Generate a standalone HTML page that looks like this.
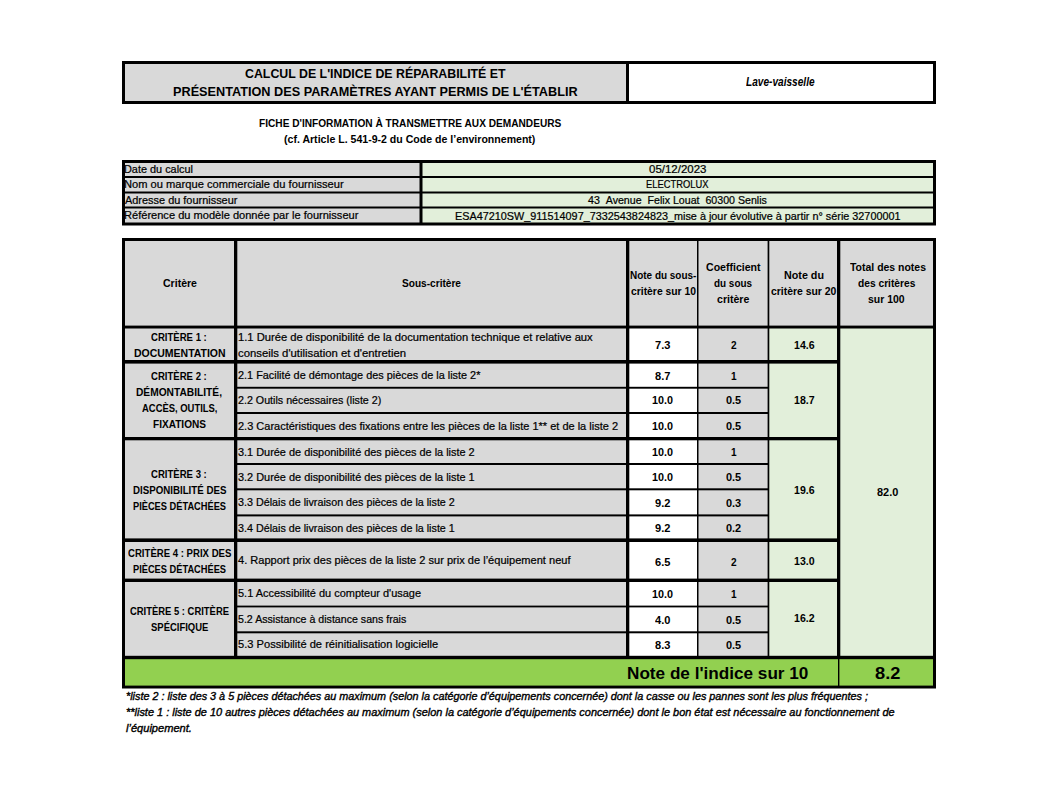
<!DOCTYPE html>
<html><head><meta charset="utf-8"><title>Indice de réparabilité</title>
<style>
html,body{margin:0;padding:0;background:#fff}
#p{position:relative;width:1061px;height:795px;overflow:hidden;background:#fff;color:#000;font-family:'Liberation Sans', sans-serif}
#p div{position:absolute}
#p span{position:absolute;white-space:pre;line-height:1;transform-origin:0 0}
.b{font-weight:bold}.i{font-style:italic}
</style></head><body><div id="p">
<svg width="1061" height="795" viewBox="0 0 1061 795" style="position:absolute;left:0;top:0">
<rect x="122" y="61" width="814" height="43" fill="#000"/>
<rect x="125" y="64" width="501" height="37" fill="#d9d9d9"/>
<rect x="629" y="64" width="304" height="37" fill="#fff"/>
<rect x="122" y="160" width="814" height="65.5" fill="#000"/>
<rect x="125" y="163" width="294.5" height="13" fill="#d9d9d9"/>
<rect x="422.5" y="163" width="510.5" height="13" fill="#e2efda"/>
<rect x="125" y="178" width="294.5" height="13.5" fill="#d9d9d9"/>
<rect x="422.5" y="178" width="510.5" height="13.5" fill="#e2efda"/>
<rect x="125" y="193.5" width="294.5" height="13.0" fill="#d9d9d9"/>
<rect x="422.5" y="193.5" width="510.5" height="13.0" fill="#e2efda"/>
<rect x="125" y="208.5" width="294.5" height="14.0" fill="#d9d9d9"/>
<rect x="422.5" y="208.5" width="510.5" height="14.0" fill="#e2efda"/>
<rect x="122" y="238" width="814" height="450.5" fill="#000"/>
<rect x="125" y="241" width="109" height="84.6" fill="#d9d9d9"/>
<rect x="237.3" y="241" width="388.7" height="84.6" fill="#d9d9d9"/>
<rect x="629.3" y="241" width="67.7" height="84.6" fill="#d9d9d9"/>
<rect x="698.5" y="241" width="69.1" height="84.6" fill="#d9d9d9"/>
<rect x="769.3" y="241" width="67.7" height="84.6" fill="#d9d9d9"/>
<rect x="840.3" y="241" width="92.7" height="84.6" fill="#d9d9d9"/>
<rect x="125" y="328.5" width="109" height="31.5" fill="#d9d9d9"/>
<rect x="769.3" y="328.5" width="67.7" height="31.5" fill="#e2efda"/>
<rect x="125" y="363.6" width="109" height="73.4" fill="#d9d9d9"/>
<rect x="769.3" y="363.6" width="67.7" height="73.4" fill="#e2efda"/>
<rect x="125" y="440.3" width="109" height="98.1" fill="#d9d9d9"/>
<rect x="769.3" y="440.3" width="67.7" height="98.1" fill="#e2efda"/>
<rect x="125" y="542" width="109" height="36.6" fill="#d9d9d9"/>
<rect x="769.3" y="542" width="67.7" height="36.6" fill="#e2efda"/>
<rect x="125" y="582" width="109" height="73.8" fill="#d9d9d9"/>
<rect x="769.3" y="582" width="67.7" height="73.8" fill="#e2efda"/>
<rect x="237.3" y="328.5" width="388.7" height="31.5" fill="#d9d9d9"/>
<rect x="629.3" y="328.5" width="67.7" height="31.5" fill="#fff"/>
<rect x="698.5" y="328.5" width="69.1" height="31.5" fill="#d9d9d9"/>
<rect x="237.3" y="363.6" width="388.7" height="23.2" fill="#d9d9d9"/>
<rect x="629.3" y="363.6" width="67.7" height="23.2" fill="#fff"/>
<rect x="698.5" y="363.6" width="69.1" height="23.2" fill="#d9d9d9"/>
<rect x="237.3" y="388.7" width="388.7" height="23.3" fill="#d9d9d9"/>
<rect x="629.3" y="388.7" width="67.7" height="23.3" fill="#fff"/>
<rect x="698.5" y="388.7" width="69.1" height="23.3" fill="#d9d9d9"/>
<rect x="237.3" y="414" width="388.7" height="23" fill="#d9d9d9"/>
<rect x="629.3" y="414" width="67.7" height="23" fill="#fff"/>
<rect x="698.5" y="414" width="69.1" height="23" fill="#d9d9d9"/>
<rect x="237.3" y="440.3" width="388.7" height="22.7" fill="#d9d9d9"/>
<rect x="629.3" y="440.3" width="67.7" height="22.7" fill="#fff"/>
<rect x="698.5" y="440.3" width="69.1" height="22.7" fill="#d9d9d9"/>
<rect x="237.3" y="465" width="388.7" height="23.3" fill="#d9d9d9"/>
<rect x="629.3" y="465" width="67.7" height="23.3" fill="#fff"/>
<rect x="698.5" y="465" width="69.1" height="23.3" fill="#d9d9d9"/>
<rect x="237.3" y="490.3" width="388.7" height="24.1" fill="#d9d9d9"/>
<rect x="629.3" y="490.3" width="67.7" height="24.1" fill="#fff"/>
<rect x="698.5" y="490.3" width="69.1" height="24.1" fill="#d9d9d9"/>
<rect x="237.3" y="516.4" width="388.7" height="22.0" fill="#d9d9d9"/>
<rect x="629.3" y="516.4" width="67.7" height="22.0" fill="#fff"/>
<rect x="698.5" y="516.4" width="69.1" height="22.0" fill="#d9d9d9"/>
<rect x="237.3" y="542" width="388.7" height="36.6" fill="#d9d9d9"/>
<rect x="629.3" y="542" width="67.7" height="36.6" fill="#fff"/>
<rect x="698.5" y="542" width="69.1" height="36.6" fill="#d9d9d9"/>
<rect x="237.3" y="582" width="388.7" height="23.6" fill="#d9d9d9"/>
<rect x="629.3" y="582" width="67.7" height="23.6" fill="#fff"/>
<rect x="698.5" y="582" width="69.1" height="23.6" fill="#d9d9d9"/>
<rect x="237.3" y="607.4" width="388.7" height="23.9" fill="#d9d9d9"/>
<rect x="629.3" y="607.4" width="67.7" height="23.9" fill="#fff"/>
<rect x="698.5" y="607.4" width="69.1" height="23.9" fill="#d9d9d9"/>
<rect x="237.3" y="633.3" width="388.7" height="22.5" fill="#d9d9d9"/>
<rect x="629.3" y="633.3" width="67.7" height="22.5" fill="#fff"/>
<rect x="698.5" y="633.3" width="69.1" height="22.5" fill="#d9d9d9"/>
<rect x="840.3" y="328.5" width="92.7" height="327.3" fill="#e2efda"/>
<rect x="125" y="659.2" width="713" height="26.4" fill="#92d050"/>
<rect x="839.4" y="659.2" width="93.6" height="26.4" fill="#92d050"/>
</svg>
<span class="b" style="left:245.00px;top:67.00px;font-size:13.7px;transform:scaleX(0.9027)">CALCUL DE L'INDICE DE RÉPARABILITÉ ET</span>
<span class="b" style="left:172.80px;top:85.00px;font-size:13.7px;transform:scaleX(0.9270)">PRÉSENTATION DES PARAMÈTRES AYANT PERMIS DE L'ÉTABLIR</span>
<span class="b i" style="left:745.90px;top:76.00px;font-size:12.4px;transform:scaleX(0.8162)">Lave-vaisselle</span>
<span class="b" style="left:259.25px;top:118.00px;font-size:11.2px;transform:scaleX(0.9053)">FICHE D'INFORMATION À TRANSMETTRE AUX DEMANDEURS</span>
<span class="b" style="left:284.20px;top:134.00px;font-size:11.2px;transform:scaleX(0.9441)">(cf. Article L. 541-9-2 du Code de l’environnement)</span>
<span style="left:124.40px;top:164.00px;font-size:11.2px;transform:scaleX(0.9731);-webkit-text-stroke:0.22px #000">Date du calcul</span>
<span style="left:124.40px;top:179.00px;font-size:11.2px;transform:scaleX(0.9952);-webkit-text-stroke:0.22px #000">Nom ou marque commerciale du fournisseur</span>
<span style="left:124.60px;top:195.00px;font-size:11.2px;transform:scaleX(0.9770);-webkit-text-stroke:0.22px #000">Adresse du fournisseur</span>
<span style="left:124.40px;top:210.00px;font-size:11.2px;transform:scaleX(0.9892);-webkit-text-stroke:0.22px #000">Référence du modèle donnée par le fournisseur</span>
<span style="left:648.80px;top:164.00px;font-size:11.2px;transform:scaleX(1.0250);-webkit-text-stroke:0.22px #000">05/12/2023</span>
<span style="left:646.30px;top:179.00px;font-size:11.2px;transform:scaleX(0.8364);-webkit-text-stroke:0.22px #000">ELECTROLUX</span>
<span style="left:588.25px;top:195.00px;font-size:11.2px;transform:scaleX(0.9503);-webkit-text-stroke:0.22px #000">43  Avenue  Felix Louat  60300 Senlis</span>
<span style="left:454.95px;top:211.00px;font-size:11.2px;transform:scaleX(0.9681);-webkit-text-stroke:0.22px #000">ESA47210SW_911514097_7332543824823_mise à jour évolutive à partir n° série 32700001</span>
<span class="b" style="left:163.00px;top:278.00px;font-size:11.2px;transform:scaleX(0.9424)">Critère</span>
<span class="b" style="left:402.00px;top:278.00px;font-size:11.2px;transform:scaleX(0.9036)">Sous-critère</span>
<span class="b" style="left:630.30px;top:270.00px;font-size:11.2px;transform:scaleX(0.8902)">Note du sous-</span>
<span class="b" style="left:631.00px;top:286.00px;font-size:11.2px;transform:scaleX(0.9249)">critère sur 10</span>
<span class="b" style="left:706.00px;top:262.00px;font-size:11.2px;transform:scaleX(0.9444)">Coefficient</span>
<span class="b" style="left:714.30px;top:278.00px;font-size:11.2px;transform:scaleX(0.8860)">du sous</span>
<span class="b" style="left:717.10px;top:294.00px;font-size:11.2px;transform:scaleX(0.9468)">critère</span>
<span class="b" style="left:783.80px;top:270.00px;font-size:11.2px;transform:scaleX(0.9606)">Note du</span>
<span class="b" style="left:771.10px;top:286.00px;font-size:11.2px;transform:scaleX(0.9305)">critère sur 20</span>
<span class="b" style="left:850.00px;top:262.00px;font-size:11.2px;transform:scaleX(0.9356)">Total des notes</span>
<span class="b" style="left:857.80px;top:278.00px;font-size:11.2px;transform:scaleX(0.9136)">des critères</span>
<span class="b" style="left:868.20px;top:294.00px;font-size:11.2px;transform:scaleX(0.9340)">sur 100</span>
<span class="b" style="left:151.40px;top:332.00px;font-size:11.2px;transform:scaleX(0.8548)">CRITÈRE 1 :</span>
<span class="b" style="left:133.50px;top:348.00px;font-size:11.2px;transform:scaleX(0.9368)">DOCUMENTATION</span>
<span class="b" style="left:151.40px;top:371.00px;font-size:11.2px;transform:scaleX(0.8548)">CRITÈRE 2 :</span>
<span class="b" style="left:136.30px;top:387.00px;font-size:11.2px;transform:scaleX(0.9123)">DÉMONTABILITÉ,</span>
<span class="b" style="left:141.55px;top:403.00px;font-size:11.2px;transform:scaleX(0.8434)">ACCÈS, OUTILS,</span>
<span class="b" style="left:152.80px;top:419.00px;font-size:11.2px;transform:scaleX(0.9007)">FIXATIONS</span>
<span class="b" style="left:151.40px;top:469.00px;font-size:11.2px;transform:scaleX(0.8548)">CRITÈRE 3 :</span>
<span class="b" style="left:132.60px;top:485.00px;font-size:11.2px;transform:scaleX(0.8685)">DISPONIBILITÉ DES</span>
<span class="b" style="left:132.80px;top:501.00px;font-size:11.2px;transform:scaleX(0.8280)">PIÈCES DÉTACHÉES</span>
<span class="b" style="left:127.60px;top:548.00px;font-size:11.2px;transform:scaleX(0.8573)">CRITÈRE 4 : PRIX DES</span>
<span class="b" style="left:132.80px;top:564.00px;font-size:11.2px;transform:scaleX(0.8280)">PIÈCES DÉTACHÉES</span>
<span class="b" style="left:129.80px;top:606.00px;font-size:11.2px;transform:scaleX(0.8427)">CRITÈRE 5 : CRITÈRE</span>
<span class="b" style="left:150.60px;top:622.00px;font-size:11.2px;transform:scaleX(0.8470)">SPÉCIFIQUE</span>
<span style="left:238.30px;top:332.00px;font-size:11.2px;transform:scaleX(1.0005);-webkit-text-stroke:0.22px #000">1.1 Durée de disponibilité de la documentation technique et relative aux</span>
<span style="left:238.30px;top:348.00px;font-size:11.2px;transform:scaleX(1.0128);-webkit-text-stroke:0.22px #000">conseils d'utilisation et d'entretien</span>
<span style="left:238.30px;top:370.00px;font-size:11.2px;transform:scaleX(0.9720);-webkit-text-stroke:0.22px #000">2.1 Facilité de démontage des pièces de la liste 2*</span>
<span style="left:238.30px;top:395.00px;font-size:11.2px;transform:scaleX(0.9562);-webkit-text-stroke:0.22px #000">2.2 Outils nécessaires (liste 2)</span>
<span style="left:238.30px;top:421.00px;font-size:11.2px;transform:scaleX(0.9824);-webkit-text-stroke:0.22px #000">2.3 Caractéristiques des fixations entre les pièces de la liste 1** et de la liste 2</span>
<span style="left:238.30px;top:447.00px;font-size:11.2px;transform:scaleX(0.9758);-webkit-text-stroke:0.22px #000">3.1 Durée de disponibilité des pièces de la liste 2</span>
<span style="left:238.30px;top:472.00px;font-size:11.2px;transform:scaleX(0.9758);-webkit-text-stroke:0.22px #000">3.2 Durée de disponibilité des pièces de la liste 1</span>
<span style="left:238.30px;top:497.00px;font-size:11.2px;transform:scaleX(0.9604);-webkit-text-stroke:0.22px #000">3.3 Délais de livraison des pièces de la liste 2</span>
<span style="left:238.30px;top:523.00px;font-size:11.2px;transform:scaleX(0.9604);-webkit-text-stroke:0.22px #000">3.4 Délais de livraison des pièces de la liste 1</span>
<span style="left:238.30px;top:555.00px;font-size:11.2px;transform:scaleX(0.9883);-webkit-text-stroke:0.22px #000">4. Rapport prix des pièces de la liste 2 sur prix de l’équipement neuf</span>
<span style="left:238.30px;top:588.00px;font-size:11.2px;transform:scaleX(0.9794);-webkit-text-stroke:0.22px #000">5.1 Accessibilité du compteur d'usage</span>
<span style="left:238.30px;top:614.00px;font-size:11.2px;transform:scaleX(0.9496);-webkit-text-stroke:0.22px #000">5.2 Assistance à distance sans frais</span>
<span style="left:238.30px;top:639.00px;font-size:11.2px;transform:scaleX(0.9936);-webkit-text-stroke:0.22px #000">5.3 Possibilité de réinitialisation logicielle</span>
<span class="b" style="left:655.10px;top:340.00px;font-size:11.2px;transform:scaleX(0.9896)">7.3</span>
<span class="b" style="left:731.20px;top:340.00px;font-size:11.2px;transform:scaleX(0.8982)">2</span>
<span class="b" style="left:655.10px;top:371.00px;font-size:11.2px;transform:scaleX(0.9896)">8.7</span>
<span class="b" style="left:731.20px;top:371.00px;font-size:11.2px;transform:scaleX(0.8982)">1</span>
<span class="b" style="left:652.30px;top:395.00px;font-size:11.2px;transform:scaleX(0.9641)">10.0</span>
<span class="b" style="left:726.40px;top:395.00px;font-size:11.2px;transform:scaleX(0.9767)">0.5</span>
<span class="b" style="left:652.30px;top:421.00px;font-size:11.2px;transform:scaleX(0.9641)">10.0</span>
<span class="b" style="left:726.40px;top:421.00px;font-size:11.2px;transform:scaleX(0.9767)">0.5</span>
<span class="b" style="left:652.30px;top:447.00px;font-size:11.2px;transform:scaleX(0.9641)">10.0</span>
<span class="b" style="left:731.20px;top:447.00px;font-size:11.2px;transform:scaleX(0.8982)">1</span>
<span class="b" style="left:652.30px;top:472.00px;font-size:11.2px;transform:scaleX(0.9641)">10.0</span>
<span class="b" style="left:726.40px;top:472.00px;font-size:11.2px;transform:scaleX(0.9767)">0.5</span>
<span class="b" style="left:655.10px;top:498.00px;font-size:11.2px;transform:scaleX(0.9896)">9.2</span>
<span class="b" style="left:726.40px;top:498.00px;font-size:11.2px;transform:scaleX(0.9767)">0.3</span>
<span class="b" style="left:655.10px;top:523.00px;font-size:11.2px;transform:scaleX(0.9896)">9.2</span>
<span class="b" style="left:726.40px;top:523.00px;font-size:11.2px;transform:scaleX(0.9767)">0.2</span>
<span class="b" style="left:655.10px;top:557.00px;font-size:11.2px;transform:scaleX(0.9896)">6.5</span>
<span class="b" style="left:731.20px;top:557.00px;font-size:11.2px;transform:scaleX(0.8982)">2</span>
<span class="b" style="left:652.30px;top:589.00px;font-size:11.2px;transform:scaleX(0.9641)">10.0</span>
<span class="b" style="left:731.20px;top:589.00px;font-size:11.2px;transform:scaleX(0.8982)">1</span>
<span class="b" style="left:655.10px;top:615.00px;font-size:11.2px;transform:scaleX(0.9896)">4.0</span>
<span class="b" style="left:726.40px;top:615.00px;font-size:11.2px;transform:scaleX(0.9767)">0.5</span>
<span class="b" style="left:655.10px;top:640.00px;font-size:11.2px;transform:scaleX(0.9896)">8.3</span>
<span class="b" style="left:726.40px;top:640.00px;font-size:11.2px;transform:scaleX(0.9767)">0.5</span>
<span class="b" style="left:794.30px;top:340.00px;font-size:11.2px;transform:scaleX(0.9458)">14.6</span>
<span class="b" style="left:794.30px;top:395.00px;font-size:11.2px;transform:scaleX(0.9458)">18.7</span>
<span class="b" style="left:794.30px;top:485.00px;font-size:11.2px;transform:scaleX(0.9458)">19.6</span>
<span class="b" style="left:794.30px;top:556.00px;font-size:11.2px;transform:scaleX(0.9458)">13.0</span>
<span class="b" style="left:794.30px;top:613.00px;font-size:11.2px;transform:scaleX(0.9458)">16.2</span>
<span class="b" style="left:876.75px;top:487.00px;font-size:11.2px;transform:scaleX(0.9779)">82.0</span>
<span class="b" style="left:626.90px;top:665.00px;font-size:17.4px;transform:scaleX(0.9864)">Note de l'indice sur 10</span>
<span class="b" style="left:874.50px;top:665.00px;font-size:17.4px;transform:scaleX(1.0501)">8.2</span>
<span class="i" style="left:126.00px;top:691.00px;font-size:10.9px;transform:scaleX(0.9924);-webkit-text-stroke:0.38px #000">*liste 2 : liste des 3 à 5 pièces détachées au maximum (selon la catégorie d’équipements concernée) dont la casse ou les pannes sont les plus fréquentes ;</span>
<span class="i" style="left:126.00px;top:707.00px;font-size:10.9px;transform:scaleX(1.0052);-webkit-text-stroke:0.38px #000">**liste 1 : liste de 10 autres pièces détachées au maximum (selon la catégorie d’équipements concernée) dont le bon état est nécessaire au fonctionnement de</span>
<span class="i" style="left:126.20px;top:723.00px;font-size:10.9px;transform:scaleX(1.0173);-webkit-text-stroke:0.38px #000">l’équipement.</span>
</div></body></html>
